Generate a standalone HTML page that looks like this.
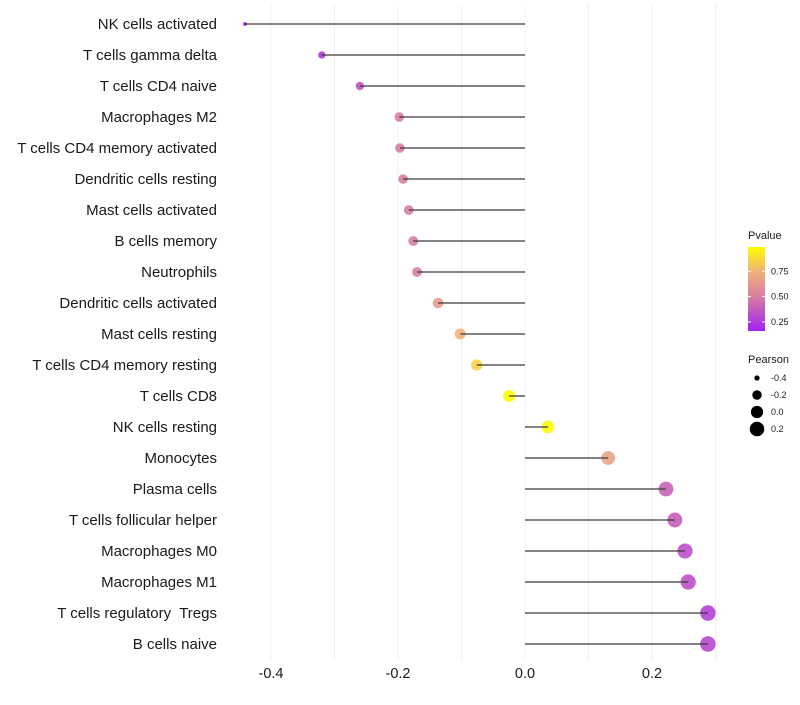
<!DOCTYPE html>
<html><head><meta charset="utf-8"><style>
body{margin:0;background:#fff;font-family:"Liberation Sans",sans-serif}
text{white-space:pre}
</style></head><body>
<svg id="c" width="800" height="700" xmlns="http://www.w3.org/2000/svg" font-family="Liberation Sans, sans-serif"></svg>
<script>
const categories=["NK cells activated","T cells gamma delta","T cells CD4 naive","Macrophages M2","T cells CD4 memory activated","Dendritic cells resting","Mast cells activated","B cells memory","Neutrophils","Dendritic cells activated","Mast cells resting","T cells CD4 memory resting","T cells CD8","NK cells resting","Monocytes","Plasma cells","T cells follicular helper","Macrophages M0","Macrophages M1","T cells regulatory  Tregs","B cells naive"];
const pearson=[-0.441,-0.320,-0.260,-0.198,-0.197,-0.192,-0.183,-0.176,-0.170,-0.137,-0.102,-0.076,-0.025,0.036,0.131,0.222,0.236,0.252,0.257,0.288,0.288];
const pvalue=[0.16,0.25,0.35,0.5,0.5,0.5,0.52,0.5,0.52,0.65,0.75,0.85,0.99,0.97,0.68,0.4,0.38,0.33,0.33,0.27,0.3];
const xTicks=[-0.4,-0.2,0.0,0.2];
const xTickLabels=["-0.4","-0.2","0.0","0.2"];
const gridVals=[-0.4,-0.3,-0.2,-0.1,0,0.1,0.2,0.3];
const pTicks=[0.25,0.5,0.75];
const sizeLegend=[-0.4,-0.2,0.0,0.2];

const svg=document.getElementById('c');const NS="http://www.w3.org/2000/svg";
function mk(t,a,p){const e=document.createElementNS(NS,t);for(const k in a)e.setAttribute(k,a[k]);(p||svg).appendChild(e);return e;}
const x=v=>525+v*635;
const y=i=>24+i*31;
const r=v=>Math.sqrt(4+Math.max(0,v+0.44)/0.73*56);
const stops=[[0.16,[163,34,242]],[0.5,[215,126,160]],[0.75,[240,178,122]],[0.99,[255,255,0]]];
function col(p){if(p<=stops[0][0])return `rgb(${stops[0][1]})`;for(let i=1;i<stops.length;i++){if(p<=stops[i][0]){const a=stops[i-1],b=stops[i];const t=(p-a[0])/(b[0]-a[0]);return `rgb(${a[1].map((c,j)=>Math.round(c+(b[1][j]-c)*t))})`;}}return 'rgb(255,255,0)';}

gridVals.forEach(v=>{const g=mk('line',{x1:x(v),x2:x(v),y1:5,y2:660,stroke:'#f0f0f0','stroke-width':1});

});
categories.forEach((c,i)=>{
const t=mk('text',{x:217,y:y(i)+5,'text-anchor':'end','font-size':15,fill:'#1a1a1a'});t.textContent=c;


const d=mk('circle',{cx:x(pearson[i]),cy:y(i),r:r(pearson[i]),fill:col(pvalue[i]),'fill-opacity':0.9});


const s=mk('line',{x1:x(0),x2:x(pearson[i]),y1:y(i),y2:y(i),stroke:'#3a3a3a','stroke-width':1.3});


});
xTicks.forEach((v,i)=>{const t=mk('text',{x:x(v),y:678,'text-anchor':'middle','font-size':14.5,fill:'#1a1a1a'});t.textContent=xTickLabels[i];

});
const lt=mk('text',{x:748,y:239,'font-size':11,fill:'#1a1a1a'});lt.textContent='Pvalue';


const defs=mk('defs',{});const lg=mk('linearGradient',{id:'g',x1:0,y1:1,x2:0,y2:0},defs);
stops.forEach(s=>mk('stop',{offset:(s[0]-0.16)/0.83,'stop-color':`rgb(${s[1]})`},lg));
const bar=mk('rect',{x:748,y:247,width:17,height:84,fill:'url(#g)'});


pTicks.forEach(p=>{const yy=331-(p-0.16)/0.83*84;
mk('line',{x1:748,x2:751,y1:yy,y2:yy,stroke:'#fff'});mk('line',{x1:762,x2:765,y1:yy,y2:yy,stroke:'#fff'});
const t=mk('text',{x:771,y:yy+3,'font-size':9,fill:'#1a1a1a'});t.textContent=p.toFixed(2);

});
const st=mk('text',{x:748,y:363,'font-size':11,fill:'#1a1a1a'});st.textContent='Pearson';


sizeLegend.forEach((v,i)=>{const yy=378+i*17;
const c=mk('circle',{cx:757,cy:yy,r:r(v),fill:'#000'});


const t=mk('text',{x:771,y:yy+3,'font-size':9,fill:'#1a1a1a'});t.textContent=v.toFixed(1);

});
</script>
</body></html>
